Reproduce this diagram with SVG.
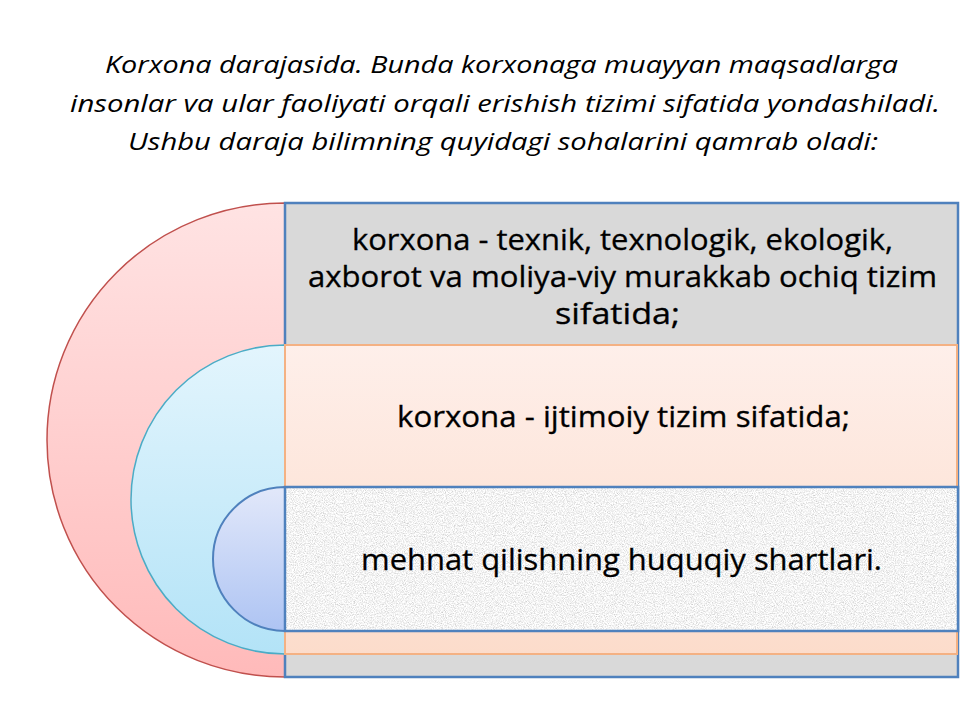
<svg xmlns="http://www.w3.org/2000/svg" width="960" height="720" viewBox="0 0 960 720">
  <style>
    .hdr { font-family: "Open Sans", "Liberation Sans", sans-serif; font-style: italic; font-size: 24px; fill: #000; }
    .body { font-family: "Open Sans", "Liberation Sans", sans-serif; font-size: 30px; fill: #000; stroke: #000; stroke-width: 0.3px; }
  </style>
  <defs>
    <linearGradient id="gRed" x1="0" y1="0" x2="0" y2="1">
      <stop offset="0" stop-color="#FFE3E3"/>
      <stop offset="1" stop-color="#FFBABA"/>
    </linearGradient>
    <linearGradient id="gCyan" x1="0" y1="0" x2="0" y2="1">
      <stop offset="0" stop-color="#E3F5FD"/>
      <stop offset="1" stop-color="#B3E3F7"/>
    </linearGradient>
    <linearGradient id="gBlue" x1="0" y1="0" x2="0" y2="1">
      <stop offset="0" stop-color="#E2E8FA"/>
      <stop offset="1" stop-color="#AEC4F3"/>
    </linearGradient>
    <linearGradient id="gPeach" x1="0" y1="0" x2="0" y2="1">
      <stop offset="0" stop-color="#FEEFEA"/>
      <stop offset="1" stop-color="#FCDCCB"/>
    </linearGradient>
    <filter id="noise" x="0" y="0" width="100%" height="100%">
      <feTurbulence type="fractalNoise" baseFrequency="0.9" numOctaves="3" seed="7" result="n"/>
      <feColorMatrix in="n" type="matrix" values="0.8 0 0 0 0.5  0.8 0 0 0 0.5  0.8 0 0 0 0.5  0 0 0 0 1" result="g"/>
      <feComposite in="g" in2="SourceGraphic" operator="in"/>
    </filter>
  </defs>

  <g id="header">
    <text class="hdr" x="105" y="73" textLength="793" lengthAdjust="spacingAndGlyphs">Korxona darajasida. Bunda korxonaga muayyan maqsadlarga</text>
    <text class="hdr" x="70" y="112" textLength="870" lengthAdjust="spacingAndGlyphs">insonlar va ular faoliyati orqali erishish tizimi sifatida yondashiladi.</text>
    <text class="hdr" x="128" y="150" textLength="750" lengthAdjust="spacingAndGlyphs">Ushbu daraja bilimning quyidagi sohalarini qamrab oladi:</text>
  </g>

  <g id="level1">
    <path d="M285,203 A238,237 0 0 0 285,677 Z" fill="url(#gRed)" stroke="#C0504D" stroke-width="1.5"/>
    <rect x="285" y="203" width="673" height="474" fill="#D9D9D9" stroke="#4F81BD" stroke-width="2.5"/>
    <text class="body" x="352" y="250" textLength="541" lengthAdjust="spacingAndGlyphs">korxona - texnik, texnologik, ekologik,</text>
    <text class="body" x="308" y="287" textLength="629" lengthAdjust="spacingAndGlyphs">axborot va moliya-viy murakkab ochiq tizim</text>
    <text class="body" x="555" y="324" textLength="125" lengthAdjust="spacingAndGlyphs">sifatida;</text>
  </g>

  <g id="level2">
    <path d="M285,345 A154,154.5 0 0 0 285,654 Z" fill="url(#gCyan)" stroke="#4BACC6" stroke-width="1.5"/>
    <rect x="285" y="345" width="672" height="309" fill="url(#gPeach)" stroke="#F4B183" stroke-width="2"/>
    <text class="body" x="397" y="427" textLength="453" lengthAdjust="spacingAndGlyphs">korxona - ijtimoiy tizim sifatida;</text>
  </g>

  <g id="level3">
    <path d="M285,487 A72,72 0 0 0 285,631 Z" fill="url(#gBlue)" stroke="#4F81BD" stroke-width="2"/>
    <rect x="285" y="487" width="673" height="144" fill="#E6E6E6"/>
    <rect x="285" y="487" width="673" height="144" fill="#E6E6E6" filter="url(#noise)"/>
    <rect x="285" y="487" width="673" height="144" fill="none" stroke="#4F81BD" stroke-width="2.5"/>
    <text class="body" x="361" y="570" textLength="521" lengthAdjust="spacingAndGlyphs">mehnat qilishning huquqiy shartlari.</text>
  </g>

  <g id="connectors"/>
</svg>
